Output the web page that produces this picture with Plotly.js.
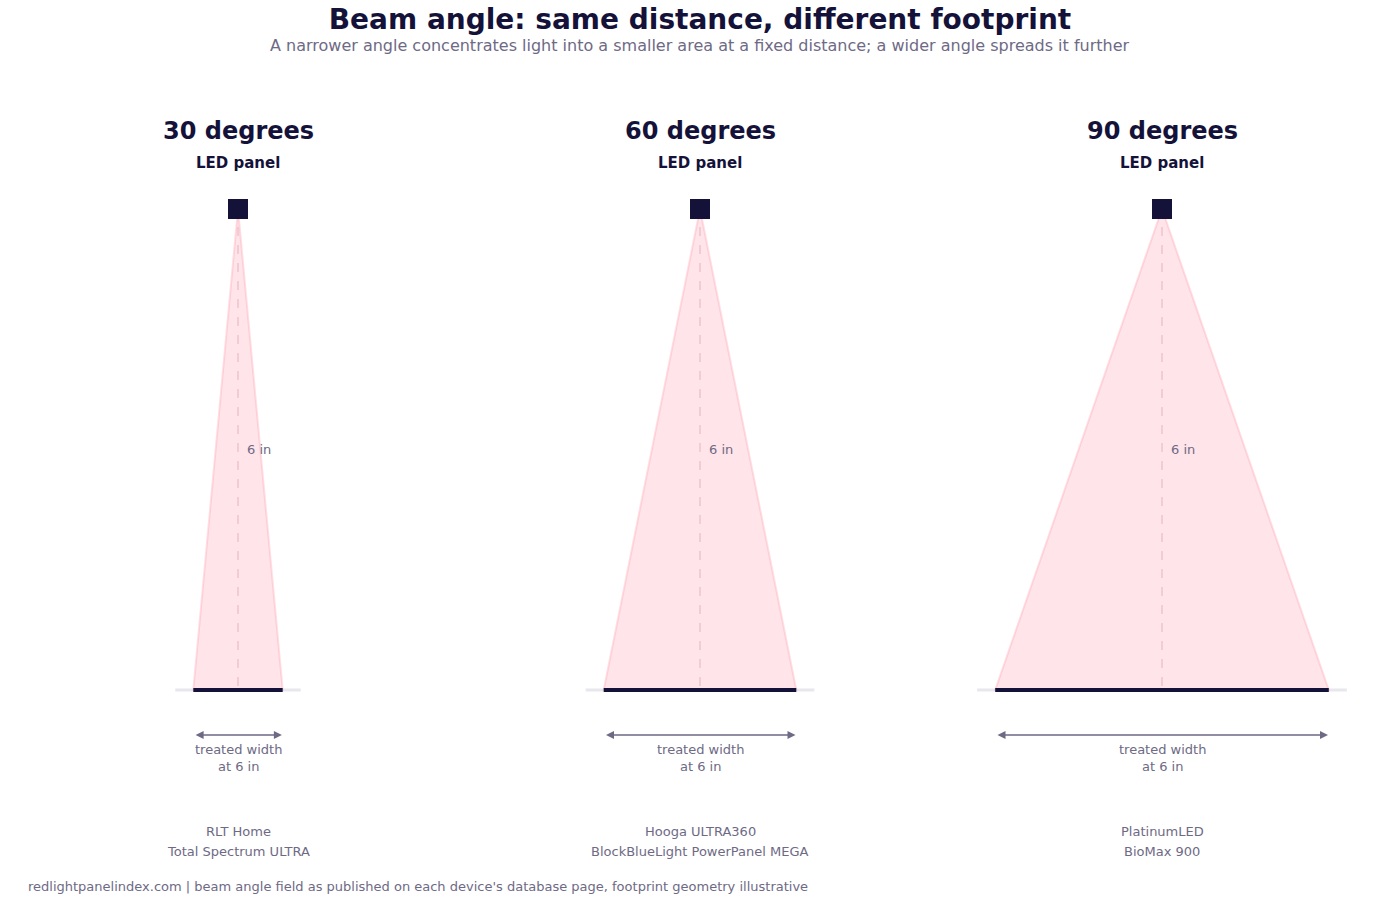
<!DOCTYPE html>
<html>
<head>
<meta charset="utf-8">
<script src="https://cdn.plot.ly/plotly-3.0.1.min.js"></script>
<style>html,body{margin:0;padding:0;background:#fff;}#chart{width:1400px;height:900px;}</style>
</head>
<body>
<div id="chart"></div>
<script>
// ---- data ----
const beamAngles = [30, 60, 90];               // degrees
const panelLabels = ["LED panel", "LED panel", "LED panel"];
const distanceIn = 6;                           // inches, panel to surface
const devicesLine1 = ["RLT Home", "Hooga ULTRA360", "PlatinumLED"];
const devicesLine2 = ["Total Spectrum ULTRA", "BlockBlueLight PowerPanel MEGA", "BioMax 900"];
const titleText = "Beam angle: same distance, different footprint";
const subtitleText = "A narrower angle concentrates light into a smaller area at a fixed distance; a wider angle spreads it further";
const footerText = "redlightpanelindex.com | beam angle field as published on each device's database page, footprint geometry illustrative";

// ---- styles ----
const NAVY = "#15123a";
const GREY = "#6e6a85";
const FONT = "DejaVu Sans, sans-serif";

const traces = [];
const annotations = [];
const layout = {
  width: 1400, height: 900,
  margin: {l: 0, r: 0, t: 0, b: 0},
  paper_bgcolor: "#ffffff", plot_bgcolor: "#ffffff",
  showlegend: false,
  font: {family: FONT, color: GREY},
  title: {text: "<b>" + titleText + "</b>", font: {family: FONT, size: 28, color: NAVY},
          x: 0.5, xanchor: "center", y: 1 - 19.5/900, yanchor: "middle", yref: "container"},
  yaxis: {range: [-(900 - 690) / 80.17, distanceIn + 209 / 80.17], visible: false, fixedrange: true},
  annotations: annotations
};

const domains = [[0.02, 0.32], [0.35, 0.65], [0.68, 0.98]];
const halfRange = 0.15 * 1400 / 27.8;

beamAngles.forEach((ang, i) => {
  const xa = i === 0 ? "x" : "x" + (i + 1);
  const axKey = i === 0 ? "xaxis" : "xaxis" + (i + 1);
  layout[axKey] = {domain: domains[i], range: [-halfRange, halfRange], visible: false, anchor: "y", fixedrange: true};
  const half = distanceIn * Math.tan(ang / 2 * Math.PI / 180);

  // floor line
  traces.push({x: [-(half + 0.65), half + 0.65], y: [0, 0], xaxis: xa, yaxis: "y", mode: "lines",
    line: {color: "#e8e7ed", width: 3}, hoverinfo: "skip"});
  // beam cone
  traces.push({x: [0, -half, half, 0], y: [distanceIn, 0, 0, distanceIn], xaxis: xa, yaxis: "y",
    mode: "lines", fill: "toself", fillcolor: "rgba(255,120,145,0.2)",
    line: {color: "rgba(255,150,165,0.3)", width: 2}, hoverinfo: "skip"});
  // center dashed line
  traces.push({x: [0, 0], y: [distanceIn, 0], xaxis: xa, yaxis: "y", mode: "lines",
    line: {color: "rgba(220,170,185,0.55)", width: 1.5, dash: "dash"}, hoverinfo: "skip"});
  // treated width bar
  traces.push({x: [-half, half], y: [0, 0], xaxis: xa, yaxis: "y", mode: "lines",
    line: {color: NAVY, width: 4}, hoverinfo: "skip"});
  // panel
  traces.push({x: [0], y: [distanceIn], xaxis: xa, yaxis: "y", mode: "markers",
    marker: {symbol: "square", size: 20, color: NAVY}, hoverinfo: "skip"});

  // panel title
  annotations.push({xref: xa, yref: "paper", x: 0, y: 1 - 131 / 900, text: "<b>" + ang + " degrees</b>",
    showarrow: false, font: {size: 24, color: NAVY, family: FONT}, xanchor: "center", yanchor: "middle"});
  annotations.push({xref: xa, yref: "paper", x: 0, y: 1 - 163 / 900, text: "<b>" + panelLabels[i] + "</b>",
    showarrow: false, font: {size: 15, color: NAVY, family: FONT}, xanchor: "center", yanchor: "middle"});
  // distance label
  annotations.push({xref: xa, yref: "y", x: 0, y: distanceIn / 2, xshift: 7, text: distanceIn + " in",
    showarrow: false, font: {size: 13, color: GREY, family: FONT}, xanchor: "left", yanchor: "middle"});
  // width arrow
  const ay = -45 / 80.17;
  annotations.push({xref: xa, yref: "y", axref: xa, ayref: "y", x: half - 0.03, y: ay, ax: -half + 0.03, ay: ay,
    text: "", showarrow: true, arrowside: "end+start", arrowhead: 2, arrowsize: 1, arrowwidth: 1.6, arrowcolor: GREY});
  annotations.push({xref: xa, yref: "paper", x: 0, y: 1 - 758 / 900, text: "treated width<br>at " + distanceIn + " in",
    showarrow: false, font: {size: 13, color: GREY, family: FONT}, xanchor: "center", yanchor: "middle"});
  // devices
  annotations.push({xref: xa, yref: "paper", x: 0, y: 1 - 831 / 900, text: devicesLine1[i],
    showarrow: false, font: {size: 13, color: GREY, family: FONT}, xanchor: "center", yanchor: "middle"});
  annotations.push({xref: xa, yref: "paper", x: 0, y: 1 - 851 / 900, text: devicesLine2[i],
    showarrow: false, font: {size: 13, color: GREY, family: FONT}, xanchor: "center", yanchor: "middle"});
});

annotations.push({xref: "paper", yref: "paper", x: 0.5, y: 1 - 45.5 / 900, text: subtitleText, showarrow: false,
  font: {size: 16, color: GREY, family: FONT}, xanchor: "center", yanchor: "middle"});
annotations.push({xref: "paper", yref: "paper", x: 26 / 1400, y: 1 - 886 / 900, text: footerText, showarrow: false,
  font: {size: 13, color: GREY, family: FONT}, xanchor: "left", yanchor: "middle"});

Plotly.newPlot("chart", traces, layout, {displayModeBar: false, staticPlot: true});
</script>
</body>
</html>
